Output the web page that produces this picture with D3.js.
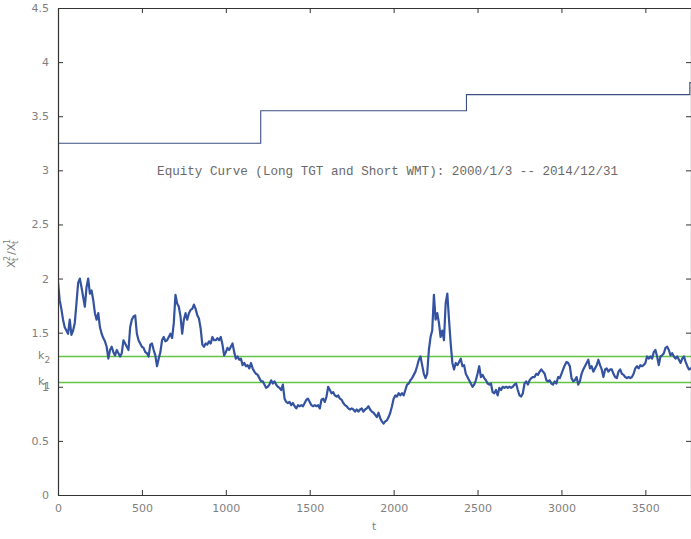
<!DOCTYPE html>
<html lang="en">
<head>
    <meta charset="UTF-8">
    <title>Equity Curve</title>
    <script src="https://d3js.org/d3.v7.min.js"></script>
    <style>
        body { margin: 0; background: #fff; }
        .tick text { font-family: "DejaVu Sans", sans-serif; font-size: 11px; fill: #7f7f7f; }
        .lbl { font-family: "DejaVu Sans", sans-serif; fill: #7f7f7f; }
    </style>
</head>
<body>

<div id="chart-container"></div>

<script>
    const dayStep = 10;
    const ratioA = [1.97, 1.80, 1.72, 1.62, 1.55, 1.52, 1.49, 1.62, 1.48, 1.52, 1.59, 1.77, 1.96, 2.00, 1.92, 1.83,
        1.74, 1.92, 2.00, 1.86, 1.89, 1.80, 1.68, 1.62, 1.68, 1.55, 1.49, 1.45, 1.42, 1.37, 1.26, 1.34, 1.37, 1.32,
        1.29, 1.34, 1.31, 1.28, 1.31, 1.43, 1.40, 1.37, 1.34, 1.55, 1.62, 1.65, 1.66, 1.49, 1.43, 1.40, 1.37, 1.36,
        1.32, 1.31, 1.28, 1.39, 1.40, 1.34, 1.29, 1.19, 1.26, 1.32, 1.43, 1.46, 1.42, 1.43, 1.46, 1.49, 1.45, 1.59,
        1.85, 1.77, 1.74, 1.65, 1.49, 1.62, 1.68, 1.62, 1.68, 1.71, 1.72, 1.76, 1.72, 1.66, 1.63, 1.54, 1.39, 1.37,
        1.40, 1.39, 1.42, 1.40, 1.46, 1.43, 1.43, 1.45, 1.43, 1.46, 1.39, 1.29, 1.32, 1.36, 1.34, 1.37, 1.40, 1.32,
        1.26, 1.28, 1.25, 1.26, 1.20, 1.22, 1.19, 1.20, 1.17, 1.22, 1.17, 1.14, 1.12, 1.11, 1.08, 1.05, 1.05, 1.02,
        0.99, 1.00, 1.02, 1.06];
    const ratioB = [1.03, 1.05, 1.02, 1.00, 0.99, 0.97, 1.02, 0.89, 0.86, 0.85, 0.86, 0.83, 0.85, 0.82, 0.80, 0.83,
        0.82, 0.83, 0.82, 0.85, 0.88, 0.89, 0.86, 0.83, 0.82, 0.83, 0.82, 0.83, 0.80, 0.88, 0.89, 0.86, 0.91, 1.00,
        0.97, 0.94, 0.95, 0.92, 0.91, 0.92, 0.89, 0.88, 0.85, 0.83, 0.82, 0.80, 0.79, 0.80, 0.79, 0.77, 0.79, 0.77,
        0.79, 0.80, 0.77, 0.79, 0.80, 0.82, 0.79, 0.77, 0.76, 0.74, 0.72, 0.76, 0.71, 0.68, 0.66, 0.68, 0.69, 0.72,
        0.76, 0.82, 0.89, 0.92, 0.91, 0.94, 0.92, 0.94, 0.92, 0.97, 1.02, 1.03, 1.06, 1.08, 1.11, 1.14, 1.19, 1.25,
        1.28, 1.20, 1.12, 1.08, 1.12, 1.34, 1.46, 1.52, 1.85, 1.62, 1.68, 1.59, 1.46, 1.52, 1.43, 1.77, 1.86, 1.62,
        1.40, 1.22, 1.16, 1.22, 1.20, 1.23, 1.26, 1.19, 1.20, 1.12, 1.09, 1.06, 1.03, 1.00, 1.02, 1.06, 1.12, 1.19,
        1.09];
    const ratioC = [1.11, 1.08, 1.06, 1.03, 1.02, 1.03, 0.95, 0.94, 0.97, 0.92, 0.99, 0.97, 1.00, 0.99, 1.00, 0.99,
        1.00, 0.99, 1.00, 1.02, 1.03, 0.97, 0.92, 0.91, 0.94, 1.03, 1.05, 1.02, 1.06, 1.08, 1.09, 1.09, 1.12, 1.11,
        1.14, 1.16, 1.14, 1.12, 1.06, 1.05, 1.06, 1.03, 1.02, 1.05, 1.03, 1.09, 1.08, 1.12, 1.16, 1.20, 1.23, 1.22,
        1.19, 1.08, 1.05, 1.06, 1.09, 1.02, 1.05, 1.12, 1.16, 1.19, 1.22, 1.25, 1.17, 1.19, 1.14, 1.17, 1.20, 1.25,
        1.20, 1.16, 1.09, 1.16, 1.17, 1.14, 1.16, 1.16, 1.12, 1.09, 1.08, 1.14, 1.16, 1.12, 1.11, 1.09, 1.08, 1.09,
        1.08, 1.09, 1.12, 1.17, 1.19, 1.17, 1.20, 1.19, 1.20, 1.22, 1.28, 1.26, 1.28, 1.26, 1.32, 1.34, 1.28, 1.20,
        1.28, 1.29, 1.31, 1.36, 1.37, 1.34, 1.29, 1.31, 1.28, 1.26, 1.28, 1.25, 1.22, 1.26, 1.28, 1.23, 1.19, 1.16,
        1.17, 1.16];

    // upper step line
    const stepDays = [0, 1208, 2434, 3765];
    const stepValues = [3.25, 3.55, 3.70, 3.81];

    // thresholds
    const k1 = 1.04;
    const k2 = 1.28;

    const lastDay = 3772;
    const yTicks = [0, 0.5, 1, 1.5, 2, 2.5, 3, 3.5, 4, 4.5];
    const xTicks = [0, 500, 1000, 1500, 2000, 2500, 3000, 3500];
    const title = "Equity Curve (Long TGT and Short WMT): 2000/1/3 -- 2014/12/31";

    const W = 691, H = 539;
    const margin = { top: 8, right: 0, bottom: 44, left: 58 };
    const width = W - margin.left - margin.right;
    const height = H - margin.top - margin.bottom;

    const ratio = ratioA.concat(ratioB, ratioC).map((v, i) => ({ t: i * dayStep, v: v }));

    const svg = d3.select("#chart-container")
        .append("svg")
        .attr("width", W)
        .attr("height", H);

    svg.append("defs").append("clipPath").attr("id", "clip")
        .append("rect").attr("width", width).attr("height", height);

    const g = svg.append("g")
        .attr("transform", `translate(${margin.left},${margin.top})`);

    const x = d3.scaleLinear().domain([0, lastDay]).range([0, width]);
    const y = d3.scaleLinear().domain([0, 4.5]).range([height, 0]);

    const plot = g.append("g").attr("clip-path", "url(#clip)");

    // green threshold lines
    [k1, k2].forEach(k => {
        plot.append("line")
            .attr("x1", 0).attr("x2", width)
            .attr("y1", y(k)).attr("y2", y(k))
            .attr("stroke", "#62c443")
            .attr("stroke-width", 1.4);
    });

    // ratio series
    plot.append("path")
        .datum(ratio)
        .attr("fill", "none")
        .attr("stroke", "#3352a0")
        .attr("stroke-width", 2.2)
        .attr("stroke-linejoin", "round")
        .attr("d", d3.line().x(d => x(d.t)).y(d => y(d.v)));

    // step line
    const steps = stepDays.map((d, i) => ({ t: d, v: stepValues[i] }));
    steps.push({ t: lastDay + 10, v: stepValues[stepValues.length - 1] });
    plot.append("path")
        .datum(steps)
        .attr("fill", "none")
        .attr("stroke", "#3d4f82")
        .attr("stroke-width", 1.1)
        .attr("d", d3.line().curve(d3.curveStepAfter).x(d => x(d.t)).y(d => y(d.v)));

    // title annotation
    g.append("text")
        .attr("x", x(1964))
        .attr("y", y(3.0))
        .attr("dy", "0.35em")
        .attr("text-anchor", "middle")
        .style("font-family", "'Liberation Mono', monospace")
        .style("font-size", "12.6px")
        .style("fill", "#6a6a6a")
        .text(title);

    // axes (box, inward ticks)
    const axisStyle = sel => {
        sel.select(".domain").attr("stroke", "#333").attr("stroke-width", 1.2);
        sel.selectAll(".tick line").attr("stroke", "#333");
    };

    g.append("g")
        .attr("transform", `translate(0,${height})`)
        .call(d3.axisBottom(x).tickValues(xTicks).tickSize(-5).tickSizeOuter(0).tickPadding(9)
            .tickFormat(d3.format("d")))
        .call(axisStyle);

    g.append("g")
        .call(d3.axisTop(x).tickValues(xTicks).tickSize(-5).tickSizeOuter(0).tickFormat(""))
        .call(axisStyle);

    g.append("g")
        .call(d3.axisLeft(y).tickValues(yTicks).tickSize(-5).tickSizeOuter(0).tickPadding(9)
            .tickFormat(d3.format("")))
        .call(axisStyle);

    g.append("g")
        .attr("transform", `translate(${width},0)`)
        .call(d3.axisRight(y).tickValues(yTicks).tickSize(-5).tickSizeOuter(0).tickFormat(""))
        .call(axisStyle);

    // k labels on the left
    [["1", k1], ["2", k2]].forEach(([s, k]) => {
        const t = g.append("text")
            .attr("class", "lbl")
            .attr("x", -20)
            .attr("y", y(k) + 3)
            .style("font-size", "11px");
        t.append("tspan").text("k");
        t.append("tspan").attr("dy", 4).style("font-size", "9px").text(s);
    });

    // axis labels
    g.append("text")
        .attr("class", "lbl")
        .attr("x", x(1884))
        .attr("y", height + 35)
        .attr("text-anchor", "middle")
        .style("font-size", "11px")
        .text("t");

    const yl = svg.append("g").attr("transform", "translate(15,252) rotate(-90)");
    const parts = [
        { s: "X", dx: -16, dy: 0, f: 11 },
        { s: "t", dx: -9, dy: 3, f: 8 },
        { s: "2", dx: -9, dy: -5, f: 8 },
        { s: "/", dx: -3, dy: 0, f: 11 },
        { s: "X", dx: 1, dy: 0, f: 11 },
        { s: "t", dx: 8, dy: 3, f: 8 },
        { s: "1", dx: 8, dy: -5, f: 8 }
    ];
    parts.forEach(p => {
        yl.append("text")
            .attr("class", "lbl")
            .attr("x", p.dx)
            .attr("y", p.dy)
            .style("font-size", p.f + "px")
            .text(p.s);
    });
</script>
</body>
</html>
